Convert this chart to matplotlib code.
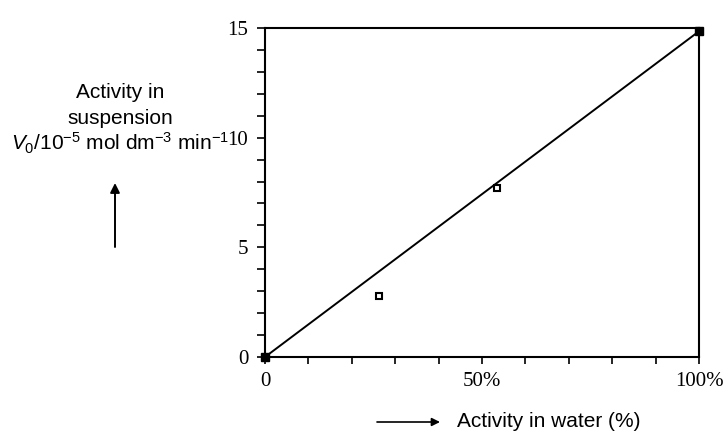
import numpy as np
import matplotlib.pyplot as plt
from matplotlib.ticker import MultipleLocator, FixedLocator

# Activity in water (%) vs activity in suspension (V0 / 1e-5 mol dm^-3 min^-1)
water_pct = [26.3, 53.5]
suspension = [2.8, 7.7]

# end points of the fitted line (filled markers)
line_x = [0, 100]
line_y = [0, 14.85]

x_ticks = [0, 50, 100]
x_ticklabels = ["0", "50%", "100%"]
y_ticks = [0, 5, 10, 15]

plt.rcParams['mathtext.fontset'] = 'custom'
plt.rcParams['mathtext.rm'] = 'Liberation Sans'
plt.rcParams['mathtext.it'] = 'Liberation Sans:italic'

W, H = 723, 436
fig = plt.figure(figsize=(W / 100, H / 100), dpi=100)

# axes box in pixels: left 265, right 699, top 28, bottom 357
ax = fig.add_axes([265 / W, 1 - 357 / H, (699 - 265) / W, (357 - 28) / H])

ax.plot(line_x, line_y, color='black', lw=1.4, zorder=3)
ax.plot(line_x, line_y, 's', color='black', ms=5.5, clip_on=False, zorder=4)
ax.plot(water_pct, suspension, 's', mfc='white', mec='black', mew=1.5, ms=5, zorder=4)

ax.set_xlim(0, 100)
ax.set_ylim(0, 15)

ax.xaxis.set_major_locator(FixedLocator(x_ticks))
ax.set_xticklabels(x_ticklabels)
ax.xaxis.set_minor_locator(MultipleLocator(10))
ax.yaxis.set_major_locator(FixedLocator(y_ticks))
ax.yaxis.set_minor_locator(MultipleLocator(1))

for s in ax.spines.values():
    s.set_linewidth(1.5)

ax.tick_params(which='both', direction='out', width=1.2, labelsize=15,
               top=False, right=False)
ax.tick_params(axis='x', which='both', length=5, pad=6)
ax.tick_params(axis='y', which='both', length=6, pad=6)
for lab in ax.get_xticklabels() + ax.get_yticklabels():
    lab.set_family('Liberation Serif')

# y axis label, three lines to the left
tx = 120 / W
fig.text(tx, 1 - 98 / H, "Activity in", ha='center', va='baseline',
         fontsize=15, family='Liberation Sans')
fig.text(tx, 1 - 124 / H, "suspension", ha='center', va='baseline',
         fontsize=15, family='Liberation Sans')
fig.text(tx, 1 - 150 / H, r"$V_0$/10$^{-5}$ mol dm$^{-3}$ min$^{-1}$",
         ha='center', va='baseline', fontsize=15, family='Liberation Sans')

# arrows
ax.annotate("", xy=(115 / W, 1 - 183 / H), xytext=(115 / W, 1 - 247 / H),
            xycoords='figure fraction', textcoords='figure fraction',
            arrowprops=dict(arrowstyle='-|>', color='black', lw=1.4,
                            mutation_scale=14, shrinkA=0, shrinkB=0))
ax.annotate("", xy=(440 / W, 1 - 422 / H), xytext=(377 / W, 1 - 422 / H),
            xycoords='figure fraction', textcoords='figure fraction',
            arrowprops=dict(arrowstyle='-|>', color='black', lw=1.2,
                            mutation_scale=12, shrinkA=0, shrinkB=0))

fig.text(457 / W, 1 - 427 / H, "Activity in water (%)", ha='left', va='baseline',
         fontsize=15, family='Liberation Sans')

fig.savefig("out.png", dpi=100)
